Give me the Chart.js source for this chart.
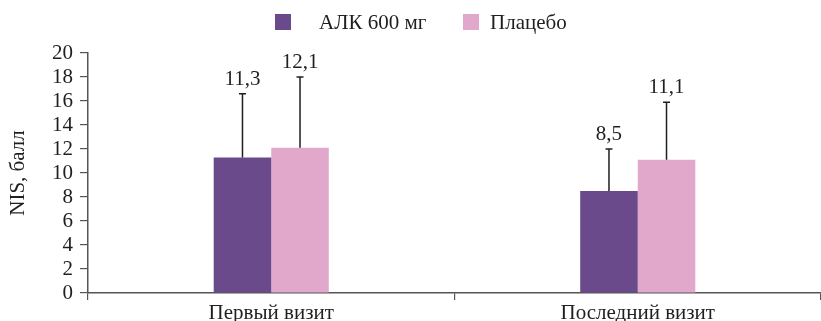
<!DOCTYPE html>
<html>
<head>
<meta charset="utf-8">
<script src="https://cdn.jsdelivr.net/npm/chart.js@4"></script>
<style>
  html, body { margin: 0; padding: 0; background: #fff; }
  #wrap { width: 821px; height: 321px; }
</style>
</head>
<body>
<div id="wrap"><canvas id="c" width="821" height="321"></canvas></div>
<script>
// NIS score by visit: group means with SD whiskers
const categories = ['Первый визит', 'Последний визит'];
const seriesNames = ['АЛК 600 мг', 'Плацебо'];
const alkMeans = [11.3, 8.5];
const placeboMeans = [12.1, 11.1];
const alkSD = [5.3, 3.5];
const placeboSD = [5.9, 4.8];
const yTicks = [0, 2, 4, 6, 8, 10, 12, 14, 16, 18, 20];

const FONT = '"Liberation Serif", "DejaVu Serif", serif';
const FSIZE = 21;
const INK = '#1f1f1f';
const AXIS = '#555555';
const PURPLE = '#6a4a8a';
const PINK = '#e1a8cc';

// Upper SD whiskers and mean labels above them
const whiskers = {
  id: 'whiskers',
  afterDatasetsDraw(chart) {
    const ctx = chart.ctx;
    const y = chart.scales.y;
    chart.data.datasets.forEach((ds, di) => {
      const meta = chart.getDatasetMeta(di);
      meta.data.forEach((bar, i) => {
        const mean = ds.data[i];
        const top = mean + ds.sd[i];
        const yTop = y.getPixelForValue(top);
        const yMean = y.getPixelForValue(mean);
        ctx.save();
        ctx.strokeStyle = INK;
        ctx.lineWidth = 1.5;
        ctx.beginPath();
        ctx.moveTo(bar.x, yMean);
        ctx.lineTo(bar.x, yTop);
        ctx.moveTo(bar.x - 3.5, yTop);
        ctx.lineTo(bar.x + 3.5, yTop);
        ctx.stroke();
        ctx.fillStyle = INK;
        ctx.font = FSIZE + 'px ' + FONT;
        ctx.textAlign = 'center';
        ctx.textBaseline = 'alphabetic';
        ctx.fillText(mean.toFixed(1).replace('.', ','), bar.x, yTop - 9);
        ctx.restore();
      });
    });
  }
};

// Legend row above the plot
const topLegend = {
  id: 'topLegend',
  afterDraw(chart) {
    const ctx = chart.ctx;
    const area = chart.chartArea;
    ctx.save();
    ctx.font = FSIZE + 'px ' + FONT;
    ctx.textBaseline = 'alphabetic';
    ctx.textAlign = 'left';
    const boxX = [area.left + 187, area.left + 375];
    const textGap = [28, 11];
    const boxTop = 14, box = 16, baseY = 29;
    chart.data.datasets.forEach((ds, i) => {
      ctx.fillStyle = ds.backgroundColor;
      ctx.fillRect(boxX[i], boxTop, box, box);
      ctx.fillStyle = INK;
      ctx.fillText(ds.label, boxX[i] + box + textGap[i], baseY);
    });
    ctx.restore();
  }
};

new Chart(document.getElementById('c'), {
  type: 'bar',
  data: {
    labels: categories,
    datasets: [
      { label: seriesNames[0], data: alkMeans, sd: alkSD, backgroundColor: PURPLE },
      { label: seriesNames[1], data: placeboMeans, sd: placeboSD, backgroundColor: PINK }
    ]
  },
  options: {
    responsive: false,
    animation: false,
    devicePixelRatio: 1,
    layout: { padding: { top: 53, right: 0, bottom: 0, left: 0 } },
    datasets: { bar: { categoryPercentage: 0.314, barPercentage: 1.0 } },
    plugins: {
      legend: { display: false },
      tooltip: { enabled: false }
    },
    scales: {
      x: {
        offset: true,
        grid: { display: true, drawOnChartArea: false, offset: true, tickLength: 7, color: AXIS, lineWidth: 1.2 },
        border: { display: true, color: AXIS, width: 1.5 },
        ticks: { color: INK, font: { family: FONT, size: FSIZE }, padding: 1 },
        afterFit(s) { s.height = 28; }
      },
      y: {
        min: 0, max: 20,
        afterBuildTicks(s) { s.ticks = yTicks.map(v => ({ value: v })); },
        grid: { display: true, drawOnChartArea: false, tickLength: 8, color: AXIS, lineWidth: 1.2 },
        border: { display: true, color: AXIS, width: 1.5 },
        ticks: { color: INK, font: { family: FONT, size: FSIZE }, padding: 7, autoSkip: false },
        title: { display: true, text: 'NIS, балл', color: INK, font: { family: FONT, size: FSIZE }, padding: { top: 6, bottom: 0 } },
        afterFit(s) { s.width = 88; }
      }
    }
  },
  plugins: [whiskers, topLegend]
});
</script>
</body>
</html>
